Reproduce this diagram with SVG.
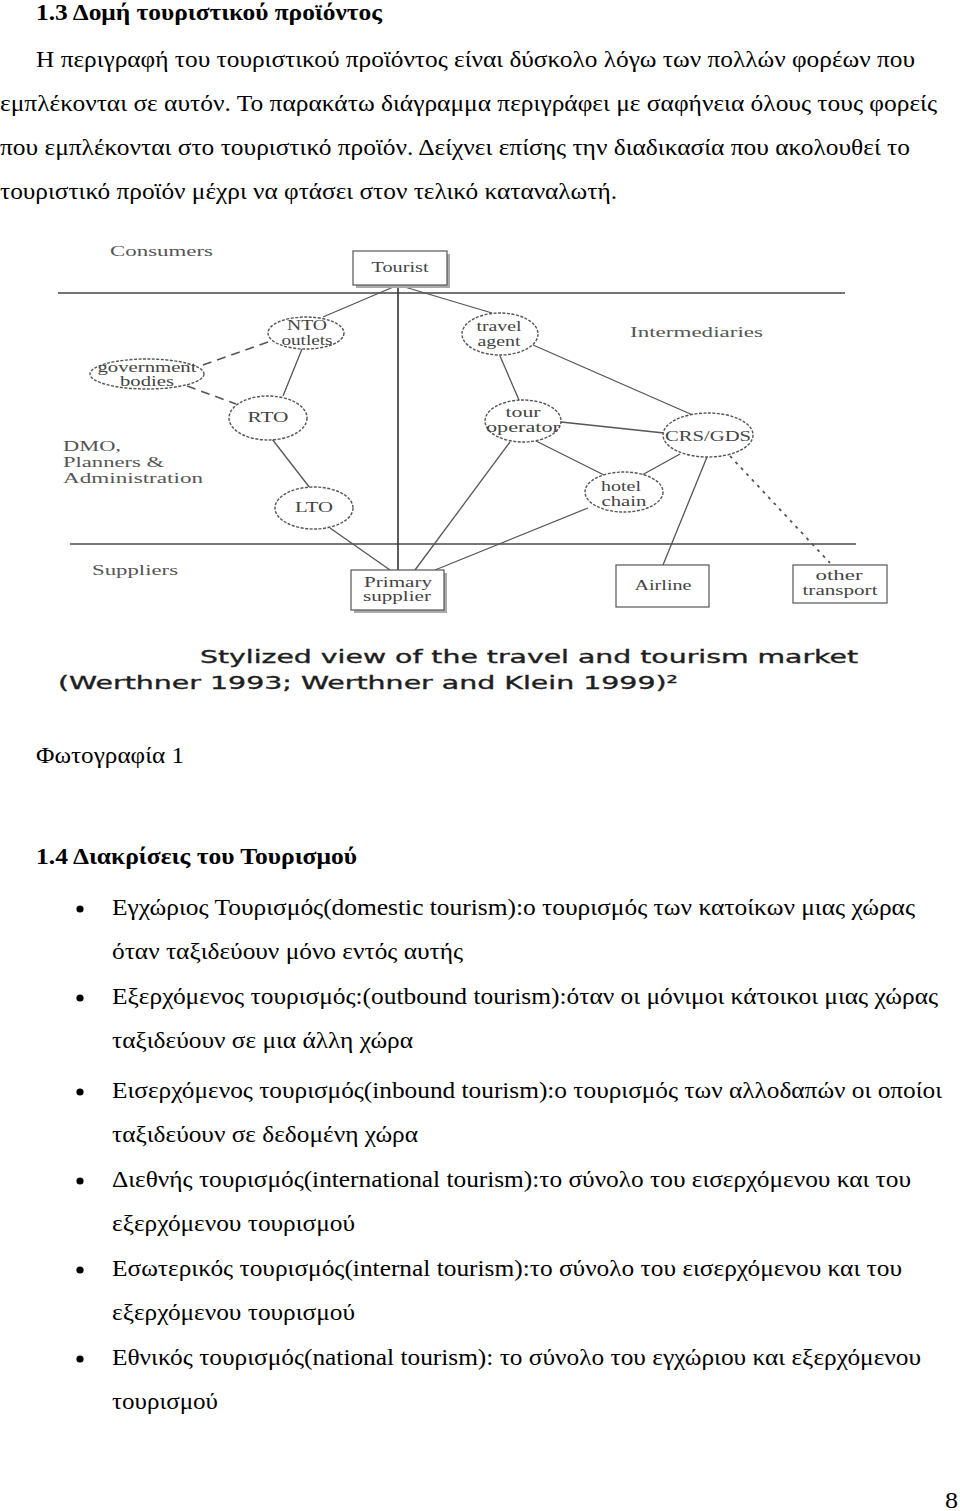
<svg xmlns="http://www.w3.org/2000/svg" width="960" height="1511" viewBox="0 0 960 1511">
<style>
.body{font-family:"Liberation Serif","Times New Roman",serif;font-size:24px;fill:#000}
.bold{font-weight:bold}
.lbl{font-family:"Liberation Serif","Times New Roman",serif;font-size:14px;fill:#444}
.zone{font-family:"Liberation Serif","Times New Roman",serif;font-size:15px;fill:#555}
.cap{font-family:"DejaVu Sans","Verdana",sans-serif;font-size:18px;fill:#1e1e1e;stroke:#1e1e1e;stroke-width:0.35}
.ell{fill:#fff;stroke:#555;stroke-width:1.4;stroke-dasharray:3 1.5}
.box{fill:#fff;stroke:#555;stroke-width:1.2}
.shadow{fill:#aaa}
.conn{stroke:#555;stroke-width:1.3;fill:none}
.dash{stroke:#555;stroke-width:1.6;fill:none;stroke-dasharray:9 6}
.dot{stroke:#555;stroke-width:1.8;fill:none;stroke-dasharray:3 5}
.sep{stroke:#444;stroke-width:1.6}
</style>

<!-- page text -->
<g id="text-top">
<text class="body bold" x="36" y="20" textLength="346" lengthAdjust="spacingAndGlyphs">1.3 Δομή τουριστικού προϊόντος</text>
<text class="body" x="36" y="67" textLength="879" lengthAdjust="spacingAndGlyphs">Η περιγραφή του τουριστικού προϊόντος είναι δύσκολο λόγω των πολλών φορέων που</text>
<text class="body" x="0" y="111" textLength="937" lengthAdjust="spacingAndGlyphs">εμπλέκονται σε αυτόν. Το παρακάτω διάγραμμα περιγράφει με σαφήνεια όλους τους φορείς</text>
<text class="body" x="0" y="155" textLength="910" lengthAdjust="spacingAndGlyphs">που εμπλέκονται στο τουριστικό προϊόν. Δείχνει επίσης την διαδικασία που ακολουθεί το</text>
<text class="body" x="0" y="199" textLength="617" lengthAdjust="spacingAndGlyphs">τουριστικό προϊόν μέχρι να φτάσει στον τελικό καταναλωτή.</text>
</g>

<!-- diagram zones -->
<g id="zones">
<line class="sep" x1="58" y1="293" x2="845" y2="293"/>
<line x1="70" y1="544" x2="856" y2="544" stroke="#777" stroke-width="2"/>
<line x1="398" y1="285" x2="398" y2="570" stroke="#333" stroke-width="1.6"/>
<text class="zone" x="110" y="256" textLength="103" lengthAdjust="spacingAndGlyphs">Consumers</text>
<text class="zone" x="630" y="337" textLength="133" lengthAdjust="spacingAndGlyphs">Intermediaries</text>
<text class="zone" x="63" y="451" textLength="58" lengthAdjust="spacingAndGlyphs">DMO,</text>
<text class="zone" x="63" y="467" textLength="101" lengthAdjust="spacingAndGlyphs">Planners &amp;</text>
<text class="zone" x="63" y="483" textLength="140" lengthAdjust="spacingAndGlyphs">Administration</text>
<text class="zone" x="92" y="575" textLength="86" lengthAdjust="spacingAndGlyphs">Suppliers</text>
</g>

<!-- connectors -->
<g id="connectors">
<line class="conn" x1="398" y1="285" x2="323" y2="317"/>
<line class="conn" x1="398" y1="285" x2="492" y2="313"/>
<line class="dash" x1="268" y1="342" x2="200" y2="366"/>
<line class="dash" x1="187" y1="386" x2="236" y2="404"/>
<line class="conn" x1="302" y1="349" x2="283" y2="396"/>
<line class="conn" x1="272" y1="439" x2="310" y2="488"/>
<line class="conn" x1="330" y1="528" x2="390" y2="570"/>
<line class="conn" x1="500" y1="356" x2="519" y2="400"/>
<line class="conn" x1="533" y1="345" x2="695" y2="416"/>
<line class="conn" x1="561" y1="422" x2="664" y2="433"/>
<line class="conn" x1="536" y1="441" x2="604" y2="475"/>
<line class="conn" x1="510" y1="442" x2="415" y2="570"/>
<line class="conn" x1="680" y1="454" x2="642" y2="475"/>
<line class="conn" x1="588" y1="508" x2="435" y2="570"/>
<line class="conn" x1="707" y1="457" x2="663" y2="565"/>
<line class="dot" x1="730" y1="456" x2="830" y2="563"/>
</g>

<!-- nodes -->
<g id="tourist">
<rect class="shadow" x="356" y="254" width="94" height="34"/>
<rect class="box" x="353" y="251" width="94" height="34"/>
<text class="lbl" x="400" y="272" text-anchor="middle" textLength="57" lengthAdjust="spacingAndGlyphs">Tourist</text>
</g>
<g id="nto-outlets">
<ellipse class="ell" cx="306" cy="333" rx="38" ry="16"/>
<text class="lbl" x="307" y="330" text-anchor="middle" textLength="40" lengthAdjust="spacingAndGlyphs">NTO</text>
<text class="lbl" x="307" y="345" text-anchor="middle" textLength="51" lengthAdjust="spacingAndGlyphs">outlets</text>
</g>
<g id="government-bodies">
<ellipse class="ell" cx="147" cy="374" rx="57" ry="15"/>
<text class="lbl" x="147" y="372" text-anchor="middle" textLength="99" lengthAdjust="spacingAndGlyphs">government</text>
<text class="lbl" x="147" y="386" text-anchor="middle" textLength="54" lengthAdjust="spacingAndGlyphs">bodies</text>
</g>
<g id="travel-agent">
<ellipse class="ell" cx="500" cy="334" rx="38" ry="21"/>
<text class="lbl" x="499" y="331" text-anchor="middle" textLength="45" lengthAdjust="spacingAndGlyphs">travel</text>
<text class="lbl" x="499" y="346" text-anchor="middle" textLength="43" lengthAdjust="spacingAndGlyphs">agent</text>
</g>
<g id="rto">
<ellipse class="ell" cx="268" cy="418" rx="39" ry="22"/>
<text class="lbl" x="268" y="422" text-anchor="middle" textLength="41" lengthAdjust="spacingAndGlyphs">RTO</text>
</g>
<g id="tour-operator">
<ellipse class="ell" cx="523" cy="421" rx="38" ry="21"/>
<text class="lbl" x="523" y="417" text-anchor="middle" textLength="35" lengthAdjust="spacingAndGlyphs">tour</text>
<text class="lbl" x="523" y="432" text-anchor="middle" textLength="74" lengthAdjust="spacingAndGlyphs">operator</text>
</g>
<g id="crs-gds">
<ellipse class="ell" cx="708" cy="435" rx="45" ry="22"/>
<text class="lbl" x="708" y="441" text-anchor="middle" textLength="86" lengthAdjust="spacingAndGlyphs">CRS/GDS</text>
</g>
<g id="hotel-chain">
<ellipse class="ell" cx="624" cy="492" rx="39" ry="20"/>
<text class="lbl" x="621" y="491" text-anchor="middle" textLength="40" lengthAdjust="spacingAndGlyphs">hotel</text>
<text class="lbl" x="624" y="506" text-anchor="middle" textLength="45" lengthAdjust="spacingAndGlyphs">chain</text>
</g>
<g id="lto">
<ellipse class="ell" cx="314" cy="508" rx="39" ry="21"/>
<text class="lbl" x="314" y="512" text-anchor="middle" textLength="38" lengthAdjust="spacingAndGlyphs">LTO</text>
</g>
<g id="primary-supplier">
<rect class="shadow" x="354" y="573" width="93" height="40"/>
<rect class="box" x="351" y="570" width="93" height="40"/>
<text class="lbl" x="398" y="587" text-anchor="middle" textLength="68" lengthAdjust="spacingAndGlyphs">Primary</text>
<text class="lbl" x="397" y="601" text-anchor="middle" textLength="68" lengthAdjust="spacingAndGlyphs">supplier</text>
</g>
<g id="airline">
<rect class="box" x="616" y="565" width="93" height="42"/>
<text class="lbl" x="663" y="590" text-anchor="middle" textLength="57" lengthAdjust="spacingAndGlyphs">Airline</text>
</g>
<g id="other-transport">
<rect class="box" x="793" y="565" width="94" height="38"/>
<text class="lbl" x="839" y="580" text-anchor="middle" textLength="47" lengthAdjust="spacingAndGlyphs">other</text>
<text class="lbl" x="840" y="595" text-anchor="middle" textLength="75" lengthAdjust="spacingAndGlyphs">transport</text>
</g>

<g id="caption">
<text class="cap" x="200" y="663" textLength="658" lengthAdjust="spacingAndGlyphs">Stylized view of the travel and tourism market</text>
<text class="cap" x="58" y="689" textLength="620" lengthAdjust="spacingAndGlyphs">(Werthner 1993; Werthner and Klein 1999)²</text>
</g>

<g id="text-bottom">
<text class="body" x="36" y="763" textLength="148" lengthAdjust="spacingAndGlyphs">Φωτογραφία 1</text>
<text class="body bold" x="36" y="864" textLength="321" lengthAdjust="spacingAndGlyphs">1.4 Διακρίσεις του Τουρισμού</text>
<g fill="#000">
<circle cx="80" cy="909" r="3.6"/>
<circle cx="80" cy="998" r="3.6"/>
<circle cx="80" cy="1092" r="3.6"/>
<circle cx="80" cy="1181" r="3.6"/>
<circle cx="80" cy="1270" r="3.6"/>
<circle cx="80" cy="1359" r="3.6"/>
</g>
<text class="body" x="112" y="915" textLength="803" lengthAdjust="spacingAndGlyphs">Εγχώριος Τουρισμός(domestic tourism):ο τουρισμός των κατοίκων μιας χώρας</text>
<text class="body" x="112" y="959" textLength="351" lengthAdjust="spacingAndGlyphs">όταν ταξιδεύουν μόνο εντός αυτής</text>
<text class="body" x="112" y="1004" textLength="826" lengthAdjust="spacingAndGlyphs">Εξερχόμενος τουρισμός:(outbound tourism):όταν οι μόνιμοι κάτοικοι μιας χώρας</text>
<text class="body" x="112" y="1048" textLength="301" lengthAdjust="spacingAndGlyphs">ταξιδεύουν σε μια άλλη χώρα</text>
<text class="body" x="112" y="1098" textLength="830" lengthAdjust="spacingAndGlyphs">Εισερχόμενος τουρισμός(inbound tourism):ο τουρισμός των αλλοδαπών οι οποίοι</text>
<text class="body" x="112" y="1142" textLength="306" lengthAdjust="spacingAndGlyphs">ταξιδεύουν σε δεδομένη χώρα</text>
<text class="body" x="112" y="1187" textLength="799" lengthAdjust="spacingAndGlyphs">Διεθνής τουρισμός(international tourism):το σύνολο του εισερχόμενου και του</text>
<text class="body" x="112" y="1231" textLength="243" lengthAdjust="spacingAndGlyphs">εξερχόμενου τουρισμού</text>
<text class="body" x="112" y="1276" textLength="790" lengthAdjust="spacingAndGlyphs">Εσωτερικός τουρισμός(internal tourism):το σύνολο του εισερχόμενου και του</text>
<text class="body" x="112" y="1320" textLength="243" lengthAdjust="spacingAndGlyphs">εξερχόμενου τουρισμού</text>
<text class="body" x="112" y="1365" textLength="809" lengthAdjust="spacingAndGlyphs">Εθνικός τουρισμός(national tourism): το σύνολο του εγχώριου και εξερχόμενου</text>
<text class="body" x="112" y="1409" textLength="106" lengthAdjust="spacingAndGlyphs">τουρισμού</text>
<text class="body" x="945" y="1508" textLength="13" lengthAdjust="spacingAndGlyphs">8</text>
</g>
</svg>
